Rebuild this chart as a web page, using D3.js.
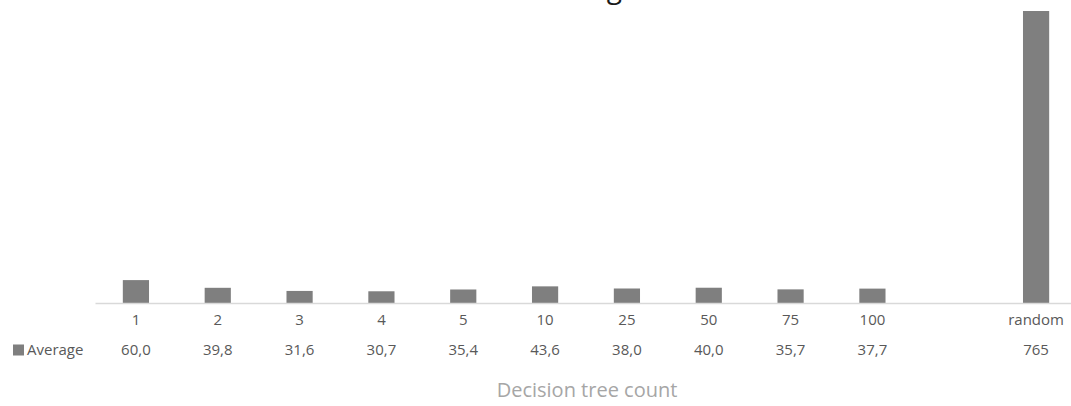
<!DOCTYPE html>
<html>
<head>
<meta charset="utf-8">
<script src="https://cdn.jsdelivr.net/npm/d3@7"></script>
<style>
  html, body { margin: 0; padding: 0; background: #fff; overflow: hidden; }
  svg { display: block; font-family: "Open Sans", sans-serif; }
</style>
</head>
<body>
<svg id="chart" width="1071" height="406"></svg>
<script>
// Chart data
const chartTitle = "Average";
const seriesName = "Average";
const categories = ["1", "2", "3", "4", "5", "10", "25", "50", "75", "100", "", "random"];
const values = [60.0, 39.8, 31.6, 30.7, 35.4, 43.6, 38.0, 40.0, 35.7, 37.7, null, 765];
const valueLabels = ["60,0", "39,8", "31,6", "30,7", "35,4", "43,6", "38,0", "40,0", "35,7", "37,7", "", "765"];
const axisTitle = "Decision tree count";

const svg = d3.select("#chart");
const W = 1071, H = 406;
const plotLeft = 95, plotRight = 1077, baseY = 303;

const x = d3.scaleBand().domain(d3.range(categories.length)).range([plotLeft, plotRight]).padding(0);
const y = d3.scaleLinear().domain([0, 800]).range([baseY, baseY - 800 * 0.3817]);
const barW = x.bandwidth() * 0.32;

// Title (sits partly above the visible area)
svg.append("text")
  .attr("x", 585).attr("y", -2.5)
  .attr("text-anchor", "middle")
  .attr("font-size", 28)
  .attr("fill", "#1a1a1a")
  .text(chartTitle);

// Bars
svg.append("g").selectAll("rect")
  .data(values.map((v, i) => ({ v, i })).filter(d => d.v != null))
  .join("rect")
  .attr("x", d => x(d.i) + x.bandwidth() / 2 - barW / 2)
  .attr("y", d => y(d.v))
  .attr("width", barW)
  .attr("height", d => baseY - y(d.v))
  .attr("fill", "#7f7f7f");

// Category axis
const axis = d3.axisBottom(x).tickSize(0).tickPadding(11).tickFormat(i => categories[i]);
const gAxis = svg.append("g").attr("transform", `translate(0,${baseY})`).call(axis);
gAxis.select(".domain").attr("stroke", "#d9d9d9").attr("stroke-width", 1.5);
gAxis.selectAll("text")
  .attr("font-family", "Open Sans, sans-serif")
  .attr("font-size", 15)
  .attr("fill", "#595959");

// Data table row with legend key
const rowY = 355;
svg.append("rect").attr("x", 13).attr("y", 344.5).attr("width", 11).attr("height", 11).attr("fill", "#7f7f7f");
svg.append("text").attr("x", 27).attr("y", rowY)
  .attr("font-size", 15).attr("fill", "#595959").text(seriesName);
svg.append("g").selectAll("text")
  .data(valueLabels)
  .join("text")
  .attr("x", (d, i) => x(i) + x.bandwidth() / 2)
  .attr("y", rowY)
  .attr("text-anchor", "middle")
  .attr("font-size", 15)
  .attr("fill", "#595959")
  .text(d => d);

// Axis title
svg.append("text")
  .attr("x", 587).attr("y", 397)
  .attr("text-anchor", "middle")
  .attr("font-size", 20)
  .attr("fill", "#a6a6a6")
  .text(axisTitle);
</script>
</body>
</html>
